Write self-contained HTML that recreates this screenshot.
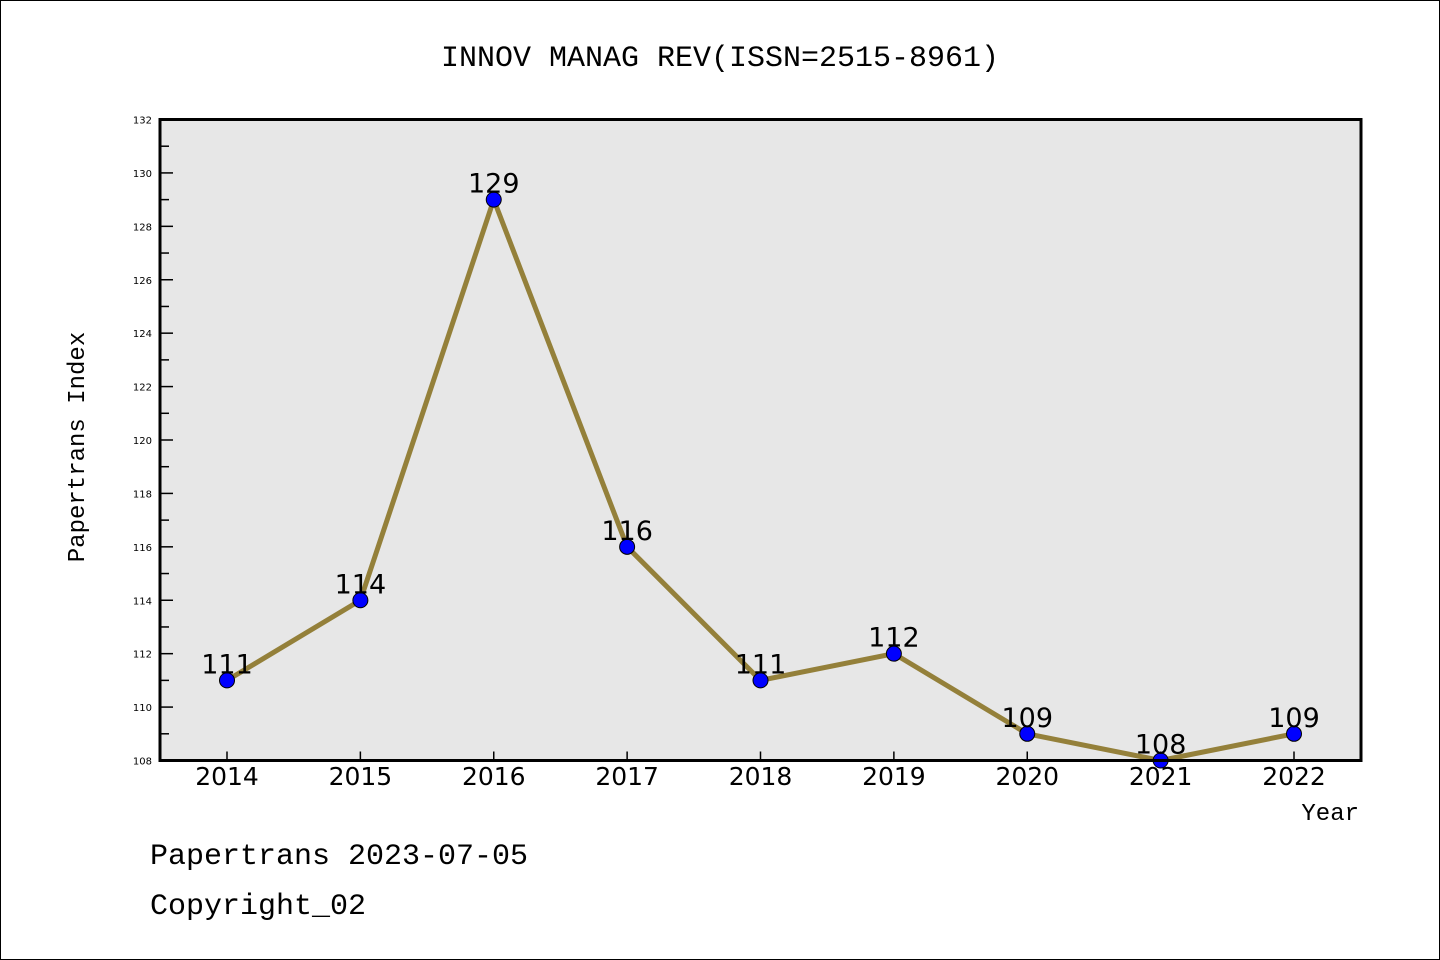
<!DOCTYPE html>
<html><head><meta charset="utf-8"><style>
html,body{margin:0;padding:0;background:#fff}
svg{display:block}
.mono{font-family:"WenQuanYi Zen Hei Mono","WenQuanYi Zen Hei","Liberation Mono",monospace}
.sans{font-family:"DejaVu Sans","Liberation Sans",sans-serif}
</style></head><body>
<svg id="c" width="1440" height="960" xmlns="http://www.w3.org/2000/svg">
<rect x="0.5" y="0.5" width="1439" height="959" fill="#fff" stroke="#000" stroke-width="1"/>
<text x="720" y="66" text-anchor="middle" font-size="30" class="mono">INNOV MANAG REV(ISSN=2515-8961)</text>
<rect x="160" y="119.5" width="1201" height="641" fill="#e7e7e7"/>
<g id="ticks"></g>
<g id="series"></g>
<rect x="160" y="119.5" width="1201" height="641" fill="none" stroke="#000" stroke-width="3"/>
<text transform="translate(84,447) rotate(-90)" text-anchor="middle" font-size="24" class="mono">Papertrans Index</text>
<text x="1359" y="820" text-anchor="end" font-size="24" class="mono">Year</text>
<text x="150" y="864" font-size="30" class="mono">Papertrans 2023-07-05</text>
<text x="150" y="914" font-size="30" class="mono">Copyright_02</text>
</svg>
<script>
const years = [2014,2015,2016,2017,2018,2019,2020,2021,2022];
const values = [111,114,129,116,111,112,109,108,109];
const yTicks = [108,110,112,114,116,118,120,122,124,126,128,130,132];
const NS = "http://www.w3.org/2000/svg";
const x0=160,x1=1361,y0=760.5,y1=119.5,yMin=108,yMax=132;
function xs(i){return 227+i*(1294-227)/(years.length-1);}
function ys(v){return y0-(v-yMin)/(yMax-yMin)*(y0-y1);}
function mk(tag,attrs,parent){const e=document.createElementNS(NS,tag);for(const k in attrs)e.setAttribute(k,attrs[k]);parent.appendChild(e);return e;}
const tg=document.getElementById('ticks');
yTicks.forEach(v=>{
  const y=ys(v);
  const t=mk('line',{x1:x0,x2:x0+13,y1:y,y2:y,stroke:'#000','stroke-width':1.5},tg);
  
  
  const l=mk('text',{x:152,y:y+4,'text-anchor':'end','font-size':10,class:'sans'},tg);
  l.textContent=v;
  
  
  if(v<yMax){const ym=ys(v+1);
    const m=mk('line',{x1:x0,x2:x0+9,y1:ym,y2:ym,stroke:'#000','stroke-width':1.5},tg);
    
    }
});
years.forEach((yr,i)=>{
  const x=xs(i);
  const t=mk('line',{x1:x,x2:x,y1:y0,y2:y0-9,stroke:'#000','stroke-width':1.5},tg);
  
  
  const l=mk('text',{x:x,y:785,'text-anchor':'middle','font-size':25,class:'sans'},tg);
  l.textContent=yr;
  
  
});
const sg=document.getElementById('series');
const pts=values.map((v,i)=>xs(i)+','+ys(v)).join(' ');
const pl=mk('polyline',{points:pts,fill:'none',stroke:'#94803a','stroke-width':5,'stroke-linejoin':'round'},sg);


values.forEach((v,i)=>{
  const c=mk('circle',{cx:xs(i),cy:ys(v),r:7.5,fill:'#0000ff',stroke:'#000','stroke-width':1},sg);
  
  
  const l=mk('text',{x:xs(i),y:ys(v)-7,'text-anchor':'middle','font-size':27,class:'sans'},sg);
  l.textContent=v;
  
  
});
</script>
</body></html>
